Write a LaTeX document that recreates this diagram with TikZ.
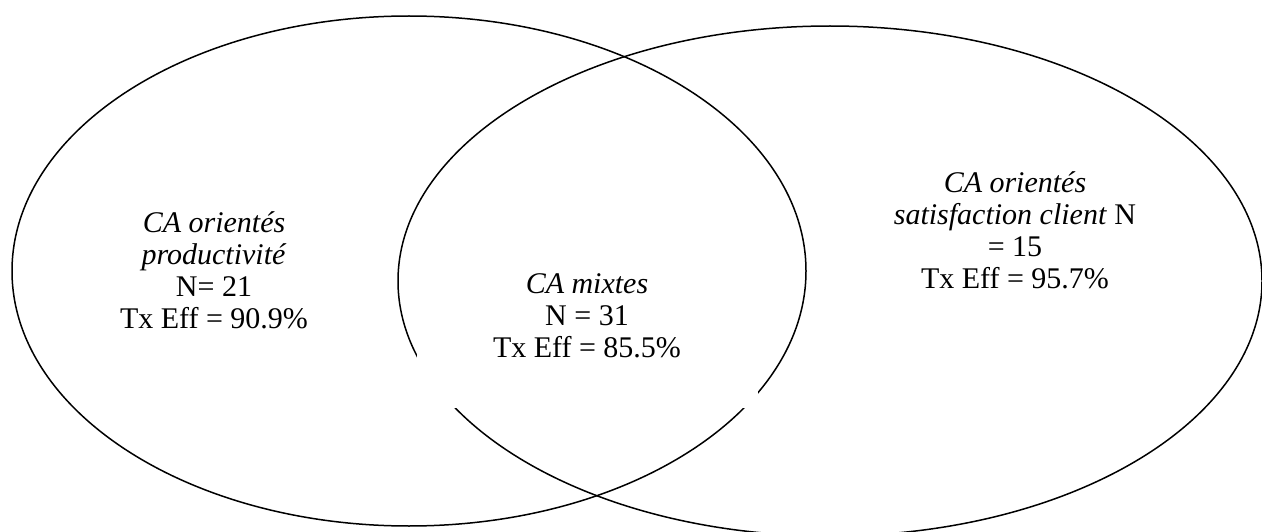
\documentclass[tikz,border=0pt]{standalone}
\usepackage{fontspec}
\setmainfont{Liberation Serif}
\begin{document}
\begin{tikzpicture}[x=1pt,y=-1pt,
  venn/.style={draw=black, line width=1.5pt},
  lbl/.style={align=center, font=\fontsize{30}{32}\selectfont, inner sep=0pt}]
\useasboundingbox (0,0) rectangle (1262,532);
\draw[venn] (409,271) ellipse [x radius=397pt, y radius=255pt];
\draw[venn] (830,281) ellipse [x radius=432pt, y radius=255pt];
\node[lbl] (prod) at (214,270) {\textit{CA orientés}\\\textit{productivité}\\N= 21\\Tx Eff = 90.9\%};
\node[lbl] (sat) at (1015,230) {\textit{CA orientés}\\\textit{satisfaction client} N\\= 15\\Tx Eff = 95.7\%};
\node[lbl, fill=white, minimum width=341pt, minimum height=184pt] (mix) at (587,316) {\textit{CA mixtes}\\N = 31\\Tx Eff = 85.5\%};
\end{tikzpicture}
\end{document}
